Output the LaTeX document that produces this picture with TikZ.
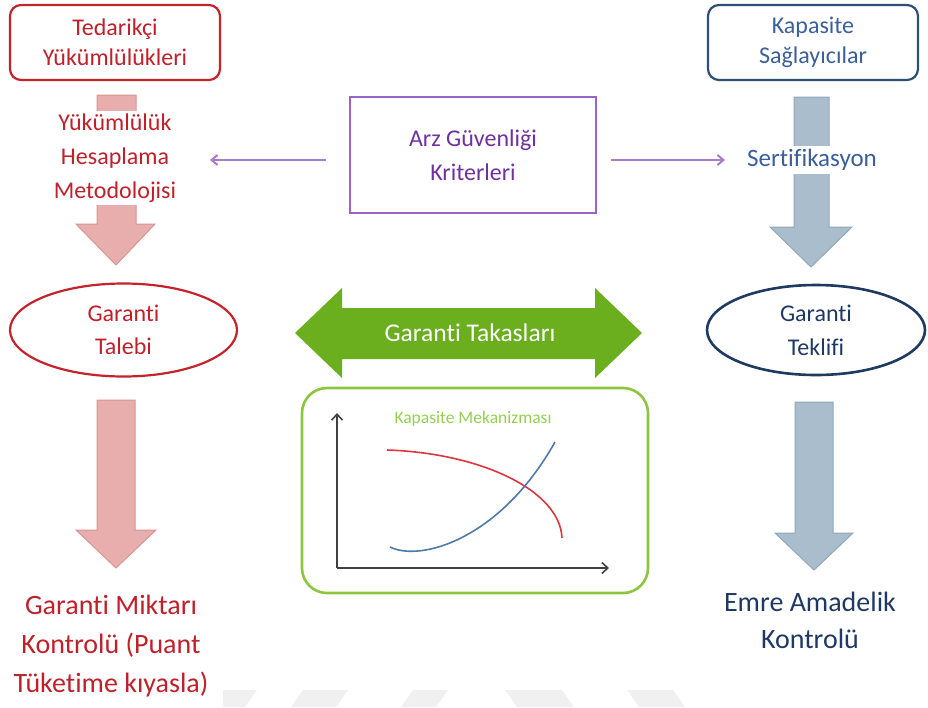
\documentclass[tikz,border=0pt]{standalone}
\usepackage{fontspec}
\setmainfont[Ligatures={NoCommon}]{Carlito}
\usetikzlibrary{arrows.meta, positioning, shapes.geometric}
\definecolor{tdred}{HTML}{C4232C}
\definecolor{tdtext}{HTML}{C0202A}
\definecolor{pinkfill}{HTML}{E8AEAE}
\definecolor{pinkline}{HTML}{DA9494}
\definecolor{kpblue}{HTML}{2E5073}
\definecolor{kptext}{HTML}{3A5F9A}
\definecolor{navy}{HTML}{1F3A60}
\definecolor{navytext}{HTML}{1F3864}
\definecolor{slate}{HTML}{AABDCC}
\definecolor{slateline}{HTML}{90A8BB}
\definecolor{arzpurple}{HTML}{7030A0}
\definecolor{arzline}{HTML}{9C62C8}
\definecolor{arzarrow}{HTML}{A87CCC}
\definecolor{takgreen}{HTML}{6BAF1F}
\definecolor{boxgreen}{HTML}{8CC63F}
\definecolor{ltgreen}{HTML}{92D050}
\definecolor{axisgray}{HTML}{404040}
\definecolor{curvered}{HTML}{D9363E}
\definecolor{curveblue}{HTML}{4F7AA8}
\definecolor{wmark}{HTML}{F0F0F0}

\begin{document}
\begin{tikzpicture}[x=1pt, y=-1pt,
  txt/.style={font=\fontsize{24}{30}\selectfont, align=center},
  bigtxt/.style={font=\fontsize{28}{39}\selectfont, align=center},
  purparrow/.style={arzarrow, line width=2pt, -{Straight Barb[length=6pt, width=10pt]}},
  axisline/.style={axisgray, line width=1.6pt, -{Straight Barb[length=6pt, width=11pt]}}]

\useasboundingbox (0,0) rectangle (928,707);

% Watermark strips at the bottom
\fill[wmark] (223,690) -- (257,690) -- (245,707) -- (223,707) -- cycle;
\fill[wmark] (303,690) -- (348,690) -- (336,707) -- (291,707) -- cycle;
\fill[wmark] (413,690) -- (448,690) -- (436,707) -- (401,707) -- cycle;
\fill[wmark] (505,690) -- (562,690) -- (574,707) -- (517,707) -- cycle;
\fill[wmark] (627,690) -- (673,690) -- (685,707) -- (639,707) -- cycle;

% Left column: block arrows
\filldraw[fill=pinkfill, draw=pinkline, line width=1pt]
  (97,95) -- (136,95) -- (136,224) -- (155,224) -- (116,265) -- (76,224) -- (97,224) -- cycle;
\filldraw[fill=pinkfill, draw=pinkline, line width=1pt]
  (97,400) -- (135,400) -- (135,530) -- (156,530) -- (116,568) -- (76,530) -- (97,530) -- cycle;

% Right column: block arrows
\filldraw[fill=slate, draw=slateline, line width=1pt]
  (794,97) -- (829,97) -- (829,227) -- (852,227) -- (811,267) -- (770,227) -- (794,227) -- cycle;
\filldraw[fill=slate, draw=slateline, line width=1pt]
  (795,402) -- (833,402) -- (833,533) -- (853,533) -- (814,570) -- (775,533) -- (795,533) -- cycle;

% Left column nodes
\node[txt, text=tdtext, draw=tdred, line width=2.2pt, rounded corners=11pt,
  minimum width=210pt, minimum height=75pt] (tedarik) at (115,42.5) {Tedarikçi\\Yükümlülükleri};
\node[txt, text=tdtext, fill=white, inner sep=3pt, font=\fontsize{24}{34}\selectfont] (hesap) at (115,158)
  {Yükümlülük\\Hesaplama\\Metodolojisi};
\node[txt, text=tdtext, draw=tdred, line width=2.2pt, ellipse, inner sep=0pt,
  minimum width=227pt, minimum height=93pt, font=\fontsize{24}{33}\selectfont] (talep) at (123.5,330)
  {Garanti\\Talebi};
\node[bigtxt, text=tdtext] (miktar) at (111,646) {Garanti Miktarı\\Kontrolü (Puant\\Tüketime kıyasla)};

% Right column nodes
\node[txt, text=kptext, draw=kpblue, line width=2.2pt, rounded corners=11pt,
  minimum width=210pt, minimum height=75pt] (kapasite) at (813,42.5) {Kapasite\\Sağlayıcılar};
\node[txt, text=kptext, fill=white, inner sep=3pt, font=\fontsize{25}{30}\selectfont] (sertifika) at (812,160)
  {Sertifikasyon};
\node[txt, text=navytext, draw=navy, line width=2.6pt, ellipse, inner sep=0pt,
  minimum width=218pt, minimum height=90pt, font=\fontsize{24}{34}\selectfont] (teklif) at (816,330)
  {Garanti\\Teklifi};
\node[bigtxt, text=navytext, font=\fontsize{28}{37}\selectfont] (amade) at (810,620) {Emre Amadelik\\Kontrolü};

% Supply security criteria
\node[txt, text=arzpurple, draw=arzline, line width=2.4pt,
  minimum width=246pt, minimum height=116pt, font=\fontsize{24}{34}\selectfont] (arz) at (473,155)
  {Arz Güvenliği\\Kriterleri};
\coordinate (arzL) at (210,160);
\coordinate (arzR) at (725,160);
\draw[purparrow] ([xshift=-23pt, yshift=-5pt]arz.west) -- (arzL);
\draw[purparrow] ([xshift=14pt, yshift=-5pt]arz.east) -- (arzR);

% Double arrow for the guarantee exchange
\fill[takgreen] (295,333) -- (342,288) -- (342,308) -- (595,308) -- (595,288) -- (642,333)
  -- (595,378) -- (595,359) -- (342,359) -- (342,378) -- cycle;
\node[txt, text=white, font=\fontsize{25.5}{30}\selectfont] (takas) at (470,333) {Garanti Takasları};

% Capacity mechanism chart
\draw[boxgreen, line width=2.6pt, rounded corners=25pt] (302,388) rectangle (648,593);
\node[text=ltgreen, font=\fontsize{17.5}{20}\selectfont] (mekan) at (473,419) {Kapasite Mekanizması};
\coordinate (orig) at (337,568);
\draw[axisline] (orig) -- (337,413);
\draw[axisline] (orig) -- (609,568);
\draw[curvered, line width=1.6pt] (387,450) .. controls (480,453) and (560,490) .. (562,538);
\draw[curveblue, line width=1.6pt] (390,547) .. controls (420,562) and (500,540) .. (555,442);

\end{tikzpicture}
\end{document}
